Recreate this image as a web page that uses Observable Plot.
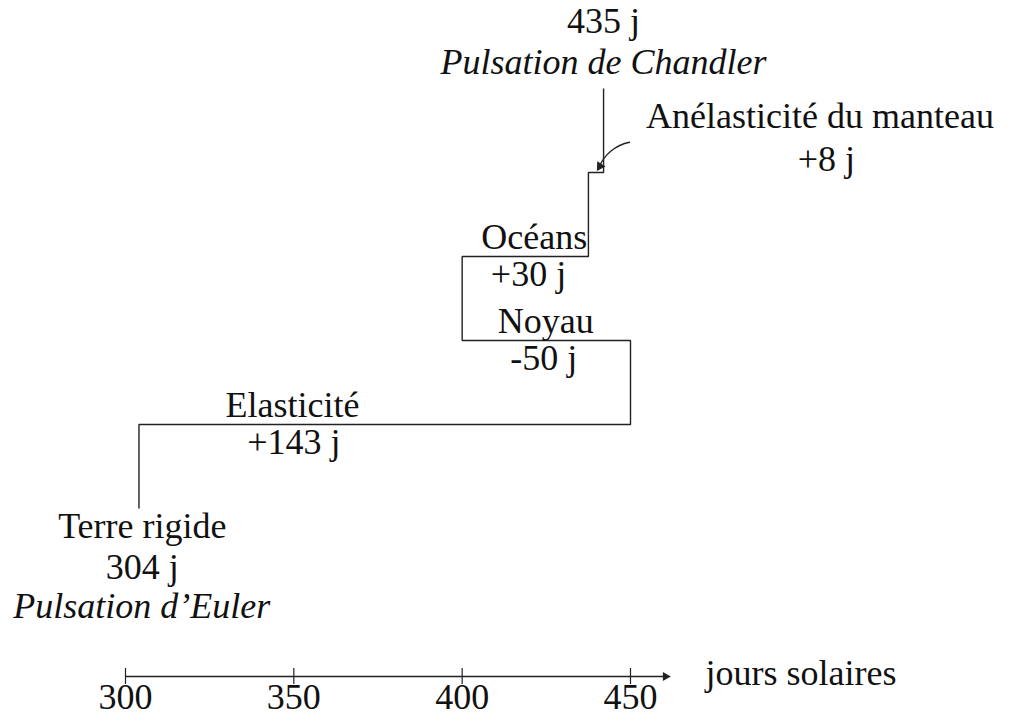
<!DOCTYPE html>
<html>
<head>
<meta charset="utf-8">
<script src="https://cdn.jsdelivr.net/npm/d3@7"></script>
<script src="https://cdn.jsdelivr.net/npm/@observablehq/plot@0.6"></script>
<style>
  html, body { margin: 0; padding: 0; background: #fff; }
  #chart svg { display: block; }
</style>
</head>
<body>
<div id="chart"></div>
<script>
// ---- data ----
const stepDays = [304, 450, 400, 437.5, 442];        // x (days) of each vertical step as drawn
const stepNames = ["Elasticité", "Noyau", "Océans"];
const stepDeltas = ["+143 j", "-50 j", "+30 j"];
const stepNameAt = [349.6, 424.8, 421.4];            // label anchors (days)
const stepDeltaAt = [350, 424.2, 419.7];
const mantleLabel = ["Anélasticité du manteau", "+8 j"];
const rigidLabel = ["Terre rigide", "304 j", "Pulsation d’Euler"];
const chandlerLabel = ["435 j", "Pulsation de Chandler"];
const tickValues = [300, 350, 400, 450];
const axisTitle = "jours solaires";
const axisEnd = 462;
const axisLevel = -2;

// ---- build path points ----
const pathPts = [];
stepDays.forEach((d, i) => { pathPts.push({x: d, y: i}, {x: d, y: i + 1}); });

const font = "'Liberation Serif', 'Times New Roman', serif";
const fs = 36;
const ink = "#111";
const lineColor = "#222";

const labels = stepNames.map((n, i) => ({name: n, delta: stepDeltas[i], xn: stepNameAt[i], xd: stepDeltaAt[i], level: i + 1}));

const chart = Plot.plot({
  width: 1009,
  height: 717,
  margin: 0,
  style: {background: "#fff", fontFamily: font},
  x: {domain: [300, 450], range: [125, 630], axis: null},
  y: {domain: [0, 5], range: [508, 88], axis: null},
  marks: [
    // staircase
    Plot.line(pathPts, {x: "x", y: "y", stroke: lineColor, strokeWidth: 1.4, strokeLinejoin: "miter", strokeLinecap: "butt"}),
    // step labels
    Plot.text(labels, {x: "xn", y: "level", text: "name", dy: -19, fontSize: fs, fill: ink, fontFamily: font}),
    Plot.text(labels, {x: "xd", y: "level", text: "delta", dy: 18, fontSize: fs, fill: ink, fontFamily: font}),
    // rigid earth
    Plot.text([rigidLabel[0]], {x: 305, y: 0, text: d => d, dy: 18, fontSize: fs, fill: ink, fontFamily: font}),
    Plot.text([rigidLabel[1]], {x: 305, y: 0, text: d => d, dy: 59, fontSize: fs, fill: ink, fontFamily: font}),
    Plot.text([rigidLabel[2]], {x: 304.8, y: 0, text: d => d, dy: 98, fontSize: fs, fontStyle: "italic", fill: ink, fontFamily: font}),
    // Chandler
    Plot.text([chandlerLabel[0]], {x: stepDays[4], y: 5, text: d => d, dy: -67, fontSize: fs, fill: ink, fontFamily: font}),
    Plot.text([chandlerLabel[1]], {x: stepDays[4], y: 5, text: d => d, dy: -26, fontSize: fs, fontStyle: "italic", fill: ink, fontFamily: font}),
    // mantle anelasticity
    Plot.text([mantleLabel[0]], {x: 506.3, y: 4, text: d => d, dy: -56, fontSize: fs, fill: ink, fontFamily: font}),
    Plot.text([mantleLabel[1]], {x: 508.2, y: 4, text: d => d, dy: -13, fontSize: fs, fill: ink, fontFamily: font}),
    Plot.arrow([0], {x1: 449.7, y1: 4.36, x2: 440.6, y2: 4.06, bend: -28, headLength: 0, stroke: lineColor, strokeWidth: 1.3}),
    Plot.dot([0], {x: 440.9, y: 4.075, symbol: "triangle", rotate: 212, r: 3.6, fill: lineColor, stroke: "none"}),
    // axis
    Plot.ruleY([axisLevel], {x1: 300, x2: axisEnd - 1.5, stroke: lineColor, strokeWidth: 1.4}),
    Plot.dot([axisEnd], {x: d => d - 1.6, y: axisLevel, symbol: "triangle", rotate: 90, r: 3.4, fill: lineColor, stroke: "none"}),
    Plot.ruleX(tickValues, {x: d => d, y1: axisLevel, y2: axisLevel, insetTop: -8, insetBottom: -8, stroke: lineColor, strokeWidth: 1.2}),
    Plot.text(tickValues, {x: d => d, y: axisLevel, text: d => String(d), dy: 21, fontSize: fs, fill: ink, fontFamily: font}),
    Plot.text([axisTitle], {x: 472.3, y: axisLevel, text: d => d, dy: -3, textAnchor: "start", fontSize: fs, fill: ink, fontFamily: font})
  ]
});
document.getElementById("chart").appendChild(chart);
</script>
</body>
</html>
